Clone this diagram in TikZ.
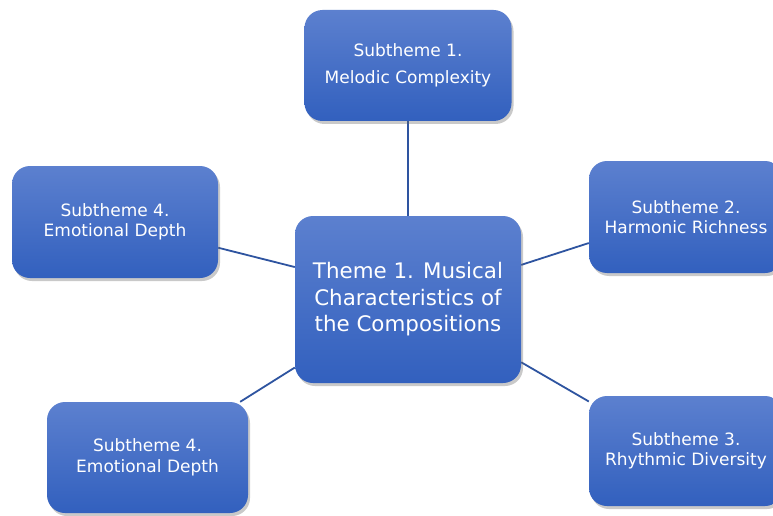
\documentclass[tikz,border=0pt]{standalone}
\usepackage{fontspec}
\setmainfont{DejaVu Sans}
\usetikzlibrary{shadows,backgrounds}
\definecolor{boxtop}{RGB}{92,128,207}
\definecolor{boxbot}{RGB}{50,96,190}
\definecolor{linkc}{RGB}{46,84,160}
\begin{document}
\begin{tikzpicture}[x=1pt,y=-1pt,
  box/.style={rectangle, rounded corners=18, inner sep=0pt,
    top color=boxtop, bottom color=boxbot, draw=none, text=white, align=center,
    drop shadow={shadow xshift=2pt, shadow yshift=-3pt, fill=black!60, opacity=0.35}},
  subbox/.style={box, font=\fontsize{17}{20.5}\selectfont},
  link/.style={draw=linkc, line width=1.8pt}]
\useasboundingbox (0,0) rectangle (773,516);
\node[box, minimum width=226, minimum height=167, font=\fontsize{21.4}{26.5}\selectfont] (c) at (408,299.5) {Theme 1. Musical\\Characteristics of\\the Compositions};
\node[subbox, minimum width=207, minimum height=111, font=\fontsize{17}{27}\selectfont] (t) at (408,65.5) {Subtheme 1.\\Melodic Complexity};
\node[subbox, minimum width=206, minimum height=112] (lu) at (115,222) {Subtheme 4.\\Emotional Depth};
\node[subbox, minimum width=201, minimum height=111] (ll) at (147.5,457.5) {Subtheme 4.\\Emotional Depth};
\node[subbox, minimum width=194, minimum height=112] (ru) at (686,217) {Subtheme 2.\\Harmonic Richness};
\node[subbox, minimum width=194, minimum height=110] (rl) at (686,451) {Subtheme 3.\\Rhythmic Diversity};
\begin{scope}[on background layer]
\fill[white] (0,0) rectangle (773,516);
\draw[link] (c.north) -- (t.south);
\draw[link] (c.164) -- (lu.-14);
\draw[link] (c.17) -- (ru.195);
\draw[link] (c.211) -- (ll.31);
\draw[link] (c.-29) -- (rl.153);
\end{scope}
\end{tikzpicture}
\end{document}
